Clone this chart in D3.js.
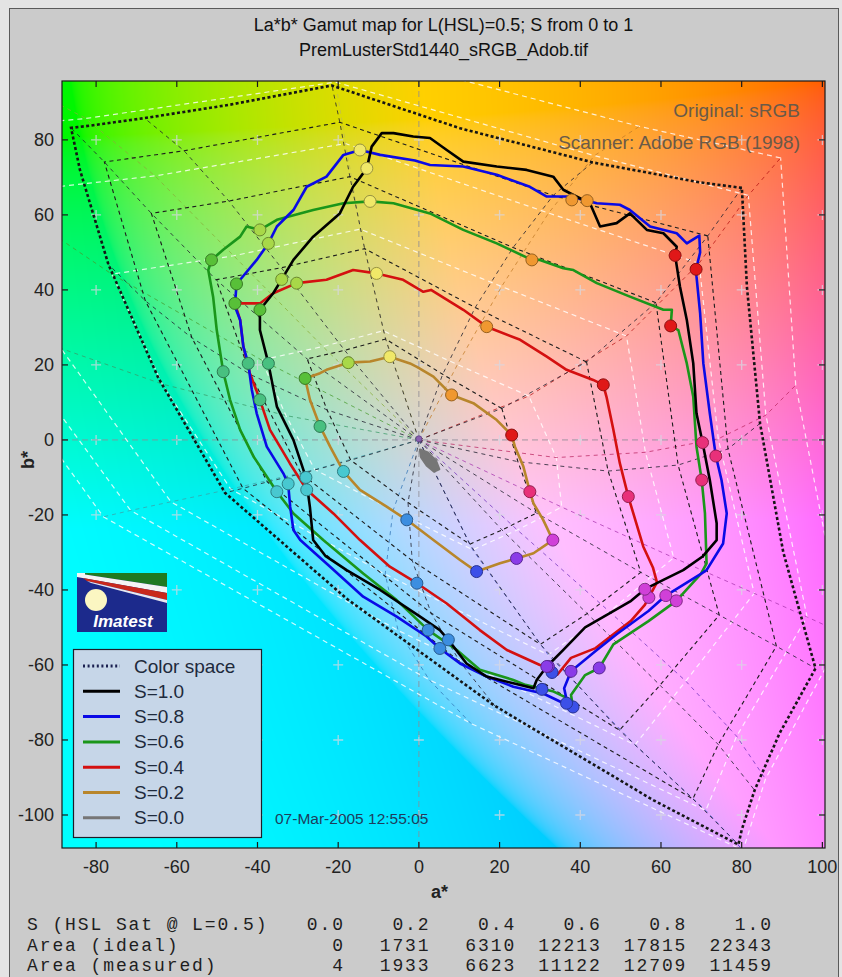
<!DOCTYPE html>
<html><head><meta charset="utf-8">
<script src="https://cdn.jsdelivr.net/npm/d3@7"></script>
<style>
body{margin:0;background:#e4e4e4;}
svg{display:block;}
</style>
</head><body>
<svg id="chart" width="842" height="977"></svg>
<script>
// ---------------- DATA ----------------
const xTicks = [-80,-60,-40,-20,0,20,40,60,80,100];
const yTicks = [-100,-80,-60,-40,-20,0,20,40,60,80];
const xLimits = [-88.45, 100.65];
const yLimits = [-108.8, 95.7];

// ideal sRGB boundary, S=1 (hue every 15 deg) - "Color space"
const colorSpaceBoundary = [[80.05,67.2],[69.5,68.7],[43.05,74.0],[10.2,83.1],[-21.55,94.5],[-46.7,89.4],[-68.0,85.8],[-81.5,83.8],[-86.2,83.2],[-84.0,72.0],[-76.95,46.8],[-64.6,16.6],[-48.05,-14.1],[-17.7,-42.5],[18.8,-70.9],[58.2,-96.1],[79.2,-107.9],[80.0,-104.0],[83.2,-93.4],[89.4,-78.2],[98.3,-60.9],[90.3,-29.9],[84.55,4.4],[81.3,40.8]];
// ideal sRGB rings (hue every 30 deg)
const idealS08 = [[71.6,54.4],[33.3,65.2],[-19.6,84.7],[-58.2,77.1],[-77.95,74.1],[-67.8,37.1],[-43.6,-12.9],[10.2,-59.2],[67.9,-95.7],[74.2,-81.2],[88.6,-55.0],[76.6,-2.4]];
const idealS06 = [[58.75,36.6],[23.35,51.3],[-17.1,70.2],[-47.1,63.7],[-66.3,60.4],[-56.25,27.2],[-37.55,-11.2],[3.05,-46.2],[49.7,-77.4],[59.75,-65.4],[74.45,-46.7],[64.25,-6.7]];
const idealS04 = [[41.55,20.8],[13.95,35.3],[-13.45,51.0],[-34.1,45.9],[-50.25,42.7],[-41.7,17.4],[-29.15,-9.0],[-1.65,-32.2],[30.1,-54.5],[41.7,-46.3],[55.0,-35.3],[46.9,-8.3]];
const idealS02 = [[20.55,8.4],[5.9,17.5],[-8.25,26.9],[-18.4,23.9],[-27.7,21.6],[-22.75,8.0],[-16.9,-5.4],[-2.7,-16.7],[12.6,-27.8],[20.6,-24.0],[29.15,-19.5],[24.55,-5.8]];
// scanner (Adobe RGB) rings, white dashed
const adobeS10 = [[89.65,75.2],[54.65,83.6],[-22.6,105.3],[-97.75,94.4],[-138,90.9],[-121.75,44.6],[-78.2,-20.5],[12.9,-75.6],[80.35,-109.4],[85.9,-90.4],[105.35,-51.7],[93.4,14.6]];
const adobeS08 = [[81.65,65.2],[43.5,75.8],[-20.65,95.4],[-82.55,85.7],[-125.4,81.6],[-107.7,34.4],[-71.45,-18.8],[2.6,-64.0],[71.1,-98.8],[78.75,-79.0],[96.2,-47.2],[86.0,6.6]];
const adobeS06 = [[69.45,47.1],[32.15,60.5],[-18.15,79.0],[-65.4,70.4],[-105.5,65.6],[-88.7,24.4],[-61.45,-16.5],[-5.15,-50.8],[53.55,-81.3],[66.15,-64.3],[83.1,-40.9],[74.2,0.3]];
const adobeS04 = [[51.45,27.7],[20.5,40.9],[-14.5,56.2],[-45.9,49.1],[-76.1,44.2],[-63.6,14.9],[-46.65,-13.1],[-8.35,-35.8],[32.05,-57.3],[47.25,-45.8],[63.15,-31.4],[56.15,-3.3]];
const adobeS02 = [[27.25,11.7],[9.55,20.1],[-8.8,29.1],[-23.8,24.9],[-39.0,21.3],[-32.95,6.5],[-25.8,-7.9],[-6.4,-18.8],[13.35,-29.3],[24.4,-24.0],[35.4,-17.9],[34.05,-4.7]];

// measured curves
const measuredS10 = [[-9.2,81.8],[-6.3,81.8],[-1.4,80.9],[2.75,80.5],[6.9,77.3],[11,74.2],[19.3,72.9],[26.7,72],[33.3,70.2],[35.8,66.7],[38.3,65.3],[42.4,63.1],[44.9,56.9],[49,57.8],[52.3,60.4],[56.5,56],[60.6,55.1],[63.9,51.5],[63.5,49.2],[64.7,40.9],[66.4,32],[68,20.4],[68.8,7.1],[70.3,-0.7],[72.1,-10.7],[73.8,-22.2],[73.8,-26.7],[70.4,-31],[65.5,-34.7],[60.6,-37.3],[56,-39.8],[52.6,-42.9],[41.2,-50],[35.8,-56],[31.7,-60.4],[29.2,-64],[28.4,-66.2],[23.4,-64.9],[16.8,-63.1],[11.8,-59.6],[7.3,-53.3],[5.2,-50.7],[0.3,-47.1],[-9.6,-40],[-17.9,-34.7],[-23.1,-31],[-26.2,-26.7],[-27,-18],[-28,-10],[-31.1,0],[-35.2,8.9],[-37.3,20.4],[-39.4,29.3],[-39.4,34.7],[-36.1,39.1],[-34,42.8],[-31.1,48],[-26.2,54.2],[-19.6,60.4],[-16.3,67.5],[-12.9,72.4],[-11.7,78.2]];
const measuredS08 = [[-14.6,77.3],[-9.6,76],[-1,74.5],[2.75,73.3],[11,72.9],[19.3,70.7],[27.5,67.5],[31.7,64.9],[37.4,64.9],[41.7,63.8],[44.1,63.1],[49.8,62.7],[52.3,61.3],[57.3,56.9],[63.9,55.1],[66.4,52.4],[69.5,54.5],[69.7,50],[68.7,45.5],[68.8,43.6],[69.7,33.8],[70.5,20.4],[72.1,7.1],[73.6,-4.3],[75,-10.7],[76.3,-19.6],[75.4,-27.6],[71.3,-34.7],[69.9,-35.7],[61.2,-41.5],[56.9,-45.6],[49,-51.8],[43.8,-56.3],[37.7,-61.7],[36,-66.2],[36.9,-70.7],[35.1,-69.8],[30.8,-67.6],[23.4,-65.8],[16.8,-63.1],[10.2,-59.6],[5.2,-55.6],[1.9,-52.4],[-5.5,-47.1],[-13.8,-41.8],[-22,-33.8],[-29.4,-26.7],[-31.1,-24],[-31.9,-17.8],[-32.4,-11.7],[-33.6,-8.9],[-37.7,-1.8],[-40.2,7.1],[-41.4,13.3],[-42.3,20.4],[-43.5,24.9],[-44.3,32],[-45.6,35.6],[-45.2,41.6],[-44.3,42.7],[-40.2,48],[-37.3,52.4],[-35.2,56.9],[-31.1,61.3],[-27.8,67.5],[-22.9,70.2],[-18.7,76]];
const measuredS06 = [[-12.1,63.6],[-6.3,63.1],[2.75,60.4],[11,56],[19.3,52.4],[28,48],[30,48],[35.8,45.8],[38.3,45.3],[44.1,41.8],[52.3,38.2],[60.6,34.7],[62.7,34.7],[62.4,30.4],[64.3,29.3],[66.4,20.4],[68,11.5],[68.8,-1.8],[70.1,-10.7],[70.9,-19.6],[71.3,-32.9],[69.9,-35.7],[63.8,-42.9],[56.9,-48.3],[48.2,-54.5],[44.7,-60.8],[41.2,-62.7],[37.7,-68],[38.2,-71.2],[36.9,-68.9],[33.4,-67.1],[26.4,-65.3],[23.4,-64],[15.1,-61.3],[9.4,-56],[2.3,-50.7],[-5.5,-42.7],[-13.8,-35.6],[-23.7,-26.7],[-31.1,-19.6],[-35.2,-13.8],[-41,-4.4],[-44.3,2.7],[-46.8,10.7],[-48.5,18.2],[-50.1,29.3],[-51,38.2],[-52.2,45.3],[-51.4,48],[-48.5,50.7],[-44.3,54.2],[-42.7,56.9],[-39.4,56],[-35.2,58.7],[-26.2,61.3],[-18.7,63.1]];
const measuredS04 = [[-10.5,44.4],[-3.9,42.7],[1.1,39.5],[3,40],[11,34.7],[16.8,30.2],[25.1,26.7],[31.7,22.2],[36.6,18.7],[43.2,16],[45.7,14.7],[46.5,11.5],[48.2,2.7],[49.8,-6.2],[51.9,-15.1],[55.6,-28.4],[58,-34],[59,-38],[56,-44],[52.5,-48.3],[48.2,-51.8],[43.8,-55.5],[37.7,-58.1],[34.3,-62.6],[32.1,-60.4],[30,-60],[21.8,-56],[15.1,-50.7],[6.9,-43.6],[-0.5,-38.2],[-7.2,-33.8],[-14.6,-26.7],[-21.2,-19.6],[-27.8,-13.3],[-32,-6.2],[-36.9,2.7],[-39.4,10.7],[-41.9,17.8],[-43.5,24.9],[-44.3,32],[-45.6,36.4],[-42.7,36.4],[-39.4,36.4],[-36.1,39.1],[-30.3,41.8],[-22.9,42.7],[-16.3,45.3]];
const measuredS02 = [[-7.2,22.2],[-2.2,20.4],[-0.5,19.5],[3.6,16.9],[8.1,12],[13.5,9.8],[19.3,5.3],[23,1.3],[23.8,-1.8],[25.9,-7.1],[27.5,-13.8],[28.4,-16.9],[30.8,-21.3],[33.2,-26.7],[28.4,-30.2],[24.2,-31.6],[20.1,-32.9],[14.3,-35.1],[10.2,-32],[3.6,-26.7],[-3,-21.3],[-8,-17.8],[-14.6,-13.3],[-18.7,-8.4],[-22,-1.8],[-24.5,3.6],[-27,10.7],[-28.2,16.4],[-24.5,17.8],[-22.9,18.7],[-17.5,20.6],[-12.1,20.9]];
const measuredS00 = [[0.3,-2.6],[2.2,-3.4],[4.2,-5.6],[5,-7.8],[3.8,-8.4],[2,-6.8],[0.6,-4.6]];

// marker positions [a*, b*, hue index]
const markersS10 = [[63.5,49.2,0],[37.9,64.0,1],[-12.9,72.4,2],[-34,42.8,3],[-39.4,34.7,4],[-37.3,20.4,5],[-28,-10,6],[7.3,-53.3,7],[30.5,-66.5,8],[31.7,-60.4,9],[56,-39.8,10],[70.3,-0.7,11]];
const markersS08 = [[68.7,45.5,0],[41.7,63.8,1],[-14.6,77.3,2],[-37.3,52.4,3],[-45.2,41.6,4],[-42.3,20.4,5],[-32.4,-11.7,6],[5.2,-55.6,7],[36.6,-70.2,8],[37.7,-61.7,9],[61.2,-41.5,10],[73.6,-4.3,11]];
const markersS06 = [[62.4,30.4,0],[28,48,1],[-12.1,63.6,2],[-39.4,56,3],[-51.4,48,4],[-48.5,18.2,5],[-35.2,-13.8,6],[2.3,-50.7,7],[38.2,-71.2,8],[44.7,-60.8,9],[63.8,-42.9,10],[70.1,-10.7,11]];
const markersS04 = [[45.7,14.7,0],[16.8,30.2,1],[-10.5,44.4,2],[-30.3,41.8,3],[-45.6,36.4,4],[-39.4,10.7,5],[-27.8,-13.3,6],[-0.5,-38.2,7],[33,-62,8],[32.1,-60.4,9],[57,-42,10],[51.9,-15.1,11]];
const markersS02 = [[23,1.3,0],[8.1,12,1],[-7.2,22.2,2],[-17.5,20.6,3],[-28.2,16.4,4],[-24.5,3.6,5],[-18.7,-8.4,6],[-3,-21.3,7],[14.3,-35.1,8],[24.2,-31.6,9],[33.2,-26.7,10],[27.5,-13.8,11]];
const markerColors = ["#e01818","#f09830","#f0e868","#a8d848","#58c038","#48c080","#48c8d0","#3c8ee0","#3c50e8","#8a3ce8","#d040d8","#e8307a"];

const seriesNames = ["S=1.0","S=0.8","S=0.6","S=0.4","S=0.2","S=0.0"];
const seriesColors = ["#000000","#0a0ae6","#1a961a","#d41010","#b8862b","#767676"];

const tableRowLabels = ["S (HSL Sat @ L=0.5)","Area (ideal)","Area (measured)"];
const tableSat = ["0.0","0.2","0.4","0.6","0.8","1.0"];
const areaIdeal = [0,1731,6310,12213,17815,22343];
const areaMeasured = [4,1933,6623,11122,12709,11459];

// ---------------- DRAW ----------------
const svg = d3.select("#chart");
const W = 842, H = 977;
const plot = {left:62, top:81, right:825, bottom:848};
const x = d3.scaleLinear().domain(xLimits).range([plot.left, plot.right]);
const y = d3.scaleLinear().domain(yLimits).range([plot.bottom, plot.top]);
const FONT = "'Liberation Sans', Arial, Helvetica, sans-serif";

// figure background & frame
svg.append("rect").attr("x",0).attr("y",0).attr("width",W).attr("height",H).attr("fill","#e4e4e4");
svg.append("rect").attr("x",9.5).attr("y",8.5).attr("width",829).attr("height",975)
  .attr("fill","#cbcbcb").attr("stroke","#5a5a5a").attr("stroke-width",1);

// background color map (a*b* plane at constant lightness)
const pw = plot.right - plot.left, ph = plot.bottom - plot.top;
const canvas = document.createElement("canvas");
canvas.width = pw; canvas.height = ph;
const ctx = canvas.getContext("2d");
const img = ctx.createImageData(pw, ph);
const Lbg = 85;
const finv = t => t > 6/29 ? t*t*t : 3*(6/29)*(6/29)*(t - 4/29);
const gam = v => { v = Math.max(0, Math.min(1, v)); return v <= 0.0031308 ? 12.92*v : 1.055*Math.pow(v, 1/2.4) - 0.055; };
const fy0 = (Lbg + 16) / 116;
for (let j = 0; j < ph; j++) {
  const bv = y.invert(plot.top + j + 0.5);
  const Z = 1.08883 * finv(fy0 - bv/200);
  const Y = finv(fy0);
  for (let i = 0; i < pw; i++) {
    const av = x.invert(plot.left + i + 0.5);
    const X = 0.95047 * finv(fy0 + av/500);
    const r = 3.2406*X - 1.5372*Y - 0.4986*Z;
    const g = -0.9689*X + 1.8758*Y + 0.0415*Z;
    const b = 0.0557*X - 0.2040*Y + 1.0570*Z;
    const k = (j*pw + i) * 4;
    img.data[k] = Math.round(255*gam(r));
    img.data[k+1] = Math.round(255*gam(g));
    img.data[k+2] = Math.round(255*gam(b));
    img.data[k+3] = 255;
  }
}
ctx.putImageData(img, 0, 0);

const defs = svg.append("defs");
defs.append("clipPath").attr("id","plotClip").append("rect")
  .attr("x",plot.left).attr("y",plot.top).attr("width",pw).attr("height",ph);

svg.append("image").attr("x",plot.left).attr("y",plot.top).attr("width",pw).attr("height",ph)
  .attr("preserveAspectRatio","none").attr("href", canvas.toDataURL());

const g = svg.append("g").attr("clip-path","url(#plotClip)");

// grid crosses
const crosses = [];
xTicks.forEach(a => yTicks.forEach(b => crosses.push([a,b])));
g.append("g").selectAll("path").data(crosses).join("path")
  .attr("d", d => `M${x(d[0])-5},${y(d[1])}h10M${x(d[0])},${y(d[1])-5}v10`)
  .attr("stroke","rgba(215,215,225,0.75)").attr("stroke-width",1.3);

// zero lines
g.append("line").attr("x1",x(0)).attr("x2",x(0)).attr("y1",plot.top).attr("y2",plot.bottom)
  .attr("stroke","#8c8c96").attr("stroke-width",1).attr("stroke-dasharray","6,4").attr("opacity",0.8);
g.append("line").attr("x1",plot.left).attr("x2",plot.right).attr("y1",y(0)).attr("y2",y(0))
  .attr("stroke","#8c8c96").attr("stroke-width",1).attr("stroke-dasharray","6,4").attr("opacity",0.8);

const closedLine = d3.line().x(d => x(d[0])).y(d => y(d[1])).curve(d3.curveLinearClosed);
const openLine = d3.line().x(d => x(d[0])).y(d => y(d[1]));

// scanner rings (white dashed)
const adobeRings = [adobeS02, adobeS04, adobeS06, adobeS08, adobeS10];
g.append("g").selectAll("path").data(adobeRings).join("path")
  .attr("d", closedLine).attr("fill","none")
  .attr("stroke","rgba(255,255,255,0.8)").attr("stroke-width",1.2).attr("stroke-dasharray","5,4");

// scanner hue spokes (coloured dashed)
const adobeSpokes = markerColors.map((c, h) => [[0,0]].concat(adobeRings.map(r => r[h])));
g.append("g").selectAll("path").data(adobeSpokes).join("path")
  .attr("d", openLine).attr("fill","none")
  .attr("stroke", (d,i) => d3.color(markerColors[i]).darker(0.6))
  .attr("stroke-width",1).attr("stroke-dasharray","4,4").attr("opacity",0.75);

// ideal sRGB rings (black dashed) and spokes
const idealS10 = colorSpaceBoundary.filter((d,i) => i % 2 === 0);
const idealRings = [idealS02, idealS04, idealS06, idealS08];
g.append("g").selectAll("path").data(idealRings).join("path")
  .attr("d", closedLine).attr("fill","none")
  .attr("stroke","#1c1c1c").attr("stroke-width",1.1).attr("stroke-dasharray","4,3.5");
const idealSpokes = idealS10.map((p, h) => [[0,0]].concat(idealRings.map(r => r[h])).concat([p]));
g.append("g").selectAll("path").data(idealSpokes).join("path")
  .attr("d", openLine).attr("fill","none")
  .attr("stroke","#202030").attr("stroke-width",1).attr("stroke-dasharray","4,4").attr("opacity",0.8);

// colour space boundary (thick dotted)
g.append("path").datum(colorSpaceBoundary).attr("d", closedLine).attr("fill","none")
  .attr("stroke","#151515").attr("stroke-width",2.6).attr("stroke-dasharray","3,2.4");

// annotation texts
g.append("text").attr("x",800).attr("y",110).attr("text-anchor","end").attr("dominant-baseline","central")
  .attr("font-family",FONT).attr("font-size",19).attr("fill","#6a5a48").text("Original: sRGB");
g.append("text").attr("x",800).attr("y",142).attr("text-anchor","end").attr("dominant-baseline","central")
  .attr("font-family",FONT).attr("font-size",19).attr("fill","#6a5a48").text("Scanner: Adobe RGB (1998)");
g.append("text").attr("x",275).attr("y",818).attr("dominant-baseline","central")
  .attr("font-family",FONT).attr("font-size",15.5).attr("fill","#1d3d5d").text("07-Mar-2005 12:55:05");

// measured curves
const measured = [measuredS10, measuredS08, measuredS06, measuredS04, measuredS02, measuredS00];
const drawOrder = [5,4,3,2,1,0];
drawOrder.forEach(i => {
  g.append("path").datum(measured[i]).attr("d", closedLine).attr("fill", i === 5 ? seriesColors[i] : "none")
    .attr("stroke", seriesColors[i]).attr("stroke-width", 2.6).attr("stroke-linejoin","round");
});
// markers
const markerSets = [markersS10, markersS08, markersS06, markersS04, markersS02];
[4,3,2,1,0].forEach(i => {
  g.append("g").selectAll("circle").data(markerSets[i]).join("circle")
    .attr("cx", d => x(d[0])).attr("cy", d => y(d[1])).attr("r", 6)
    .attr("fill", d => markerColors[d[2]])
    .attr("stroke", d => d3.color(markerColors[d[2]]).darker(1.3)).attr("stroke-width",1);
});
g.append("circle").attr("cx",x(0)).attr("cy",y(0.3)).attr("r",3).attr("fill","#8a60b0").attr("stroke","#6a4a90");

// axes box and ticks
svg.append("rect").attr("x",plot.left).attr("y",plot.top).attr("width",pw).attr("height",ph)
  .attr("fill","none").attr("stroke","#1a1a1a").attr("stroke-width",1.2);
const tickLen = 6;
const axG = svg.append("g").attr("stroke","#1a1a1a").attr("stroke-width",1.2);
xTicks.forEach(t => {
  axG.append("line").attr("x1",x(t)).attr("x2",x(t)).attr("y1",plot.bottom).attr("y2",plot.bottom-tickLen);
  axG.append("line").attr("x1",x(t)).attr("x2",x(t)).attr("y1",plot.top).attr("y2",plot.top+tickLen);
});
yTicks.forEach(t => {
  axG.append("line").attr("x1",plot.left).attr("x2",plot.left+tickLen).attr("y1",y(t)).attr("y2",y(t));
  axG.append("line").attr("x1",plot.right).attr("x2",plot.right-tickLen).attr("y1",y(t)).attr("y2",y(t));
});
svg.append("g").selectAll("text").data(xTicks).join("text")
  .attr("x", d => x(d)).attr("y", 873).attr("text-anchor","middle")
  .attr("font-family",FONT).attr("font-size",18).attr("fill","#222").text(d => d);
svg.append("g").selectAll("text").data(yTicks).join("text")
  .attr("x", 54).attr("y", d => y(d)).attr("text-anchor","end").attr("dominant-baseline","central")
  .attr("font-family",FONT).attr("font-size",18).attr("fill","#222").text(d => d);

// axis labels
svg.append("text").attr("x",(plot.left+plot.right)/2 - 4).attr("y",898).attr("text-anchor","middle")
  .attr("font-family",FONT).attr("font-size",18).attr("font-weight","bold").attr("fill","#222").text("a*");
svg.append("text").attr("transform",`translate(34,460) rotate(-90)`)
  .attr("text-anchor","middle").attr("font-family",FONT).attr("font-size",18).attr("font-weight","bold")
  .attr("fill","#222").text("b*");

// title
svg.append("text").attr("x",(plot.left+plot.right)/2).attr("y",31).attr("text-anchor","middle")
  .attr("font-family",FONT).attr("font-size",18).attr("fill","#111").text("La*b* Gamut map for L(HSL)=0.5; S from 0 to 1");
svg.append("text").attr("x",(plot.left+plot.right)/2).attr("y",56).attr("text-anchor","middle")
  .attr("font-family",FONT).attr("font-size",18).attr("fill","#111").text("PremLusterStd1440_sRGB_Adob.tif");

// logo
const logo = svg.append("g").attr("transform","translate(77,573)");
logo.append("rect").attr("width",90).attr("height",59).attr("fill","#1c2a8c");
logo.append("polygon").attr("points","8,0 90,0 90,14 8,1.5").attr("fill","#1f7a22");
logo.append("polygon").attr("points","0,0 8,0 8,1.5 90,14 90,20 0,4").attr("fill","#f4f4f4");
logo.append("polygon").attr("points","6,5 90,20 90,27 10,8").attr("fill","#c8281c");
logo.append("polygon").attr("points","10,8 90,27 90,30 14,10").attr("fill","#e8e8f0");
logo.append("circle").attr("cx",19).attr("cy",27).attr("r",11).attr("fill","#fbf6c2");
logo.append("text").attr("x",46).attr("y",54).attr("text-anchor","middle")
  .attr("font-family",FONT).attr("font-size",17).attr("font-style","italic").attr("font-weight","bold")
  .attr("fill","#ffffff").text("Imatest");

// legend
const legendItems = [{name:"Color space", color:"#1a2050", dash:"2,2.6"}].concat(
  seriesNames.map((n,i) => ({name:n, color:seriesColors[i], dash:null})));
const lg = svg.append("g");
lg.append("rect").attr("x",73.5).attr("y",649.5).attr("width",188).attr("height",188)
  .attr("fill","#c6d6e8").attr("stroke","#1e1e2a").attr("stroke-width",1.2);
legendItems.forEach((it, i) => {
  const yy = 666 + i*25.3;
  lg.append("line").attr("x1",83).attr("x2",120).attr("y1",yy).attr("y2",yy)
    .attr("stroke",it.color).attr("stroke-width",3).attr("stroke-dasharray",it.dash);
  lg.append("text").attr("x",134).attr("y",yy).attr("dominant-baseline","central")
    .attr("font-family",FONT).attr("font-size",19).attr("fill","#1e2a3c").text(it.name);
});

// table
const MONO = "'Liberation Mono', 'Courier New', monospace";
const colRight = [343, 428.6, 514.2, 599.8, 685.4, 771];
const rows = [tableSat, areaIdeal.map(String), areaMeasured.map(String)];
const rowY = [930, 950.5, 971];
const LS = 1.9;
const tg = svg.append("g").attr("font-family",MONO).attr("font-size",18).attr("fill","#1e1e1e");
tableRowLabels.forEach((lab, r) => {
  tg.append("text").attr("x",27).attr("y",rowY[r]).attr("letter-spacing",LS).text(lab);
  rows[r].forEach((v, c) => {
    tg.append("text").attr("x",colRight[c] + LS).attr("y",rowY[r]).attr("text-anchor","end")
      .attr("letter-spacing",LS).text(v);
  });
});
</script>
</body></html>
